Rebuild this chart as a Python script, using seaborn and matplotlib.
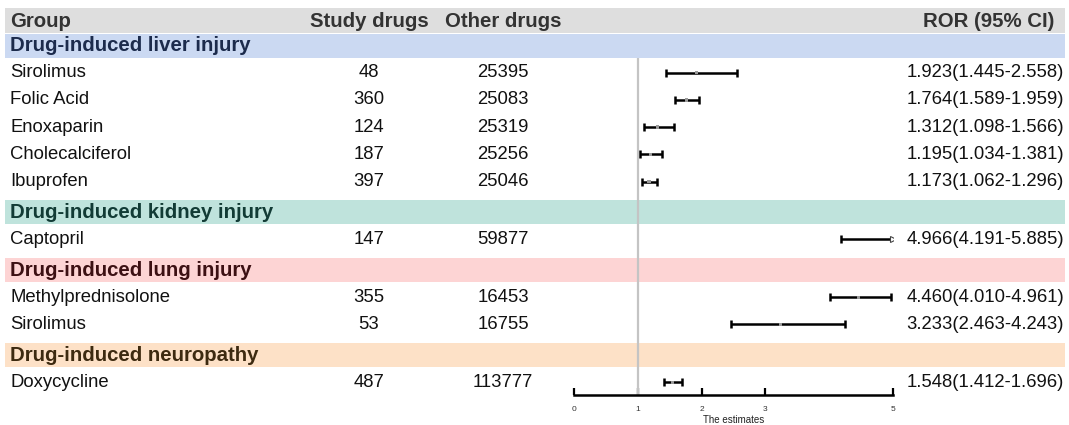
import numpy as np
import pandas as pd
import matplotlib
matplotlib.use("Agg")
import matplotlib.pyplot as plt
import seaborn as sns

# ---------------- data ----------------
groups = ["Drug-induced liver injury", "Drug-induced kidney injury",
          "Drug-induced lung injury", "Drug-induced neuropathy"]
group_of_drug = [0, 0, 0, 0, 0, 1, 2, 2, 3]
drugs = ["Sirolimus", "Folic Acid", "Enoxaparin", "Cholecalciferol", "Ibuprofen",
         "Captopril", "Methylprednisolone", "Sirolimus", "Doxycycline"]
study_n = [48, 360, 124, 187, 397, 147, 355, 53, 487]
other_n = [25395, 25083, 25319, 25256, 25046, 59877, 16453, 16755, 113777]
ror = [1.923, 1.764, 1.312, 1.195, 1.173, 4.966, 4.460, 3.233, 1.548]
ci_low = [1.445, 1.589, 1.098, 1.034, 1.062, 4.191, 4.010, 2.463, 1.412]
ci_high = [2.558, 1.959, 1.566, 1.381, 1.296, 5.885, 4.961, 4.243, 1.696]
x_ticks = [0, 1, 2, 3, 5]
x_max = 5

band_colors = ["#cbd9f2", "#bfe3dc", "#fdd4d4", "#fde1c7"]
group_text_colors = ["#1c2b4c", "#123b35", "#3c1013", "#3d2a10"]

sns.set_theme(style="white")
plt.rcParams["font.family"] = ["Liberation Sans", "DejaVu Sans"]

W, H = 1069, 425
fig = plt.figure(figsize=(W / 100, H / 100), dpi=100)
bg = fig.add_axes([0, 0, 1, 1])
bg.set_xlim(0, W)
bg.set_ylim(H, 0)
bg.axis("off")

# ---------------- layout rows ----------------
rows = []  # (kind, index)
prev_g = None
for i, g in enumerate(group_of_drug):
    if g != prev_g:
        rows.append(("group", g))
        prev_g = g
    rows.append(("drug", i))

y_first, step, extra = 45.5, 27.2, 3.5
ys = []
y = y_first
for k, (kind, idx) in enumerate(rows):
    if k > 0:
        y += step + (extra if kind == "group" else 0)
    ys.append(y)

x_left, x_right = 5, 1065
x_name, x_study, x_other, x_ror = 10, 369, 503, 1064
fs_row, fs_head = 13.3, 14.7

# header
bg.add_patch(plt.Rectangle((x_left, 8), x_right - x_left, 25, color="#dedede", lw=0, zorder=0))
hy = 21
bg.text(x_name, hy, "Group", ha="left", va="center", fontsize=fs_head, fontweight="bold", color="#333333")
bg.text(x_study, hy, "Study drugs", ha="center", va="center", fontsize=fs_head, fontweight="bold", color="#333333")
bg.text(x_other, hy, "Other drugs", ha="center", va="center", fontsize=fs_head, fontweight="bold", color="#333333")
bg.text(1054, hy, "ROR (95% CI)", ha="right", va="center", fontsize=fs_head, fontweight="bold", color="#333333")

drug_y = {}
for (kind, idx), yy in zip(rows, ys):
    if kind == "group":
        bg.add_patch(plt.Rectangle((x_left, yy - 12), x_right - x_left, 24,
                                   color=band_colors[idx], lw=0, zorder=0))
        bg.text(x_name, yy, groups[idx], ha="left", va="center", fontsize=fs_head,
                fontweight="bold", color=group_text_colors[idx])
    else:
        drug_y[idx] = yy
        bg.text(x_name, yy, drugs[idx], ha="left", va="center", fontsize=fs_row, color="#111111")
        bg.text(x_study, yy, str(study_n[idx]), ha="center", va="center", fontsize=fs_row, color="#111111")
        bg.text(x_other, yy, str(other_n[idx]), ha="center", va="center", fontsize=fs_row, color="#111111")
        bg.text(x_ror, yy, f"{ror[idx]:.3f}({ci_low[idx]:.3f}-{ci_high[idx]:.3f})",
                ha="right", va="center", fontsize=fs_row, color="#111111")

# ---------------- forest axes ----------------
ax_x0, ax_x1, ax_ybot = 574, 893, 395
ax = fig.add_axes([ax_x0 / W, (H - ax_ybot) / H, (ax_x1 - ax_x0) / W, ax_ybot / H])
ax.set_xlim(0, x_max)
ax.set_ylim(ax_ybot, 0)
ax.patch.set_alpha(0)
for s in ["top", "left", "right"]:
    ax.spines[s].set_visible(False)
ax.spines["bottom"].set_color("black")
ax.spines["bottom"].set_linewidth(1.8)
ax.set_yticks([])
ax.set_xticks(x_ticks)
ax.set_xticklabels([str(t) for t in x_ticks])
ax.tick_params(axis="x", direction="in", length=5, width=1.6, labelsize=6,
               colors="black", labelcolor="#333333", pad=8, bottom=True)
ax.set_xlabel("The estimates", fontsize=7, color="#222222", labelpad=1.5)

ax.plot([1, 1], [58, ax_ybot], color="#c4c4c4", lw=1.6, zorder=1, solid_capstyle="butt")

df = pd.DataFrame({
    "drug": drugs, "ror": ror, "lo": ci_low, "hi": ci_high,
    "y": [drug_y[i] for i in range(len(drugs))],
})
df["hi_c"] = df["hi"].clip(upper=x_max)

ax.hlines(df["y"], df["lo"], df["hi_c"], color="black", lw=1.8, zorder=2)
ax.plot(df["lo"], df["y"], ls="none", marker="|", ms=6, mew=1.8, color="black", zorder=3)
inside = df[df["hi"] <= x_max]
ax.plot(inside["hi"], inside["y"], ls="none", marker="|", ms=6, mew=1.8, color="black", zorder=3)
clipped = df[df["hi"] > x_max]
ax.plot(clipped["hi_c"], clipped["y"], ls="none", marker=">", ms=4, mew=0.8,
        markerfacecolor="white", markeredgecolor="#444444", zorder=4)
pts = df[df["ror"] < x_max - 0.1]
sns.scatterplot(data=pts, x="ror", y="y", ax=ax, marker="s", s=6, color="#9a9a9a",
                edgecolor="none", zorder=5, legend=False)
ax.set_ylabel("")
ax.set_ylim(ax_ybot, 0)

fig.savefig("out.png", dpi=100)
